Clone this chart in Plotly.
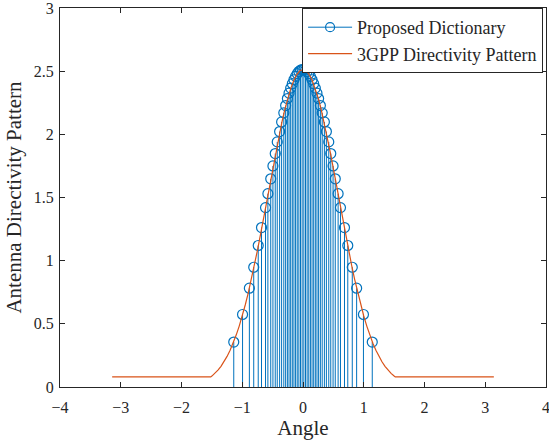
import plotly.graph_objects as go

# Dictionary stem positions (angle, rad) and heights
stem_x = [-1.140, -0.995, -0.883, -0.811, -0.737, -0.683, -0.617, -0.578, -0.531, -0.495,
          -0.457, -0.424, -0.385, -0.352, -0.316, -0.286, -0.257, -0.230, -0.203, -0.176,
          -0.149, -0.122, -0.095, -0.068, -0.041, -0.014,
          0.014, 0.041, 0.068, 0.095, 0.122, 0.149, 0.176, 0.203, 0.230, 0.257,
          0.286, 0.316, 0.352, 0.385, 0.424, 0.457, 0.495, 0.531, 0.578, 0.617,
          0.683, 0.737, 0.811, 0.883, 0.995, 1.140]
stem_y = [0.356, 0.574, 0.782, 0.948, 1.120, 1.262, 1.420, 1.530, 1.648, 1.750,
          1.848, 1.940, 2.022, 2.098, 2.170, 2.228, 2.283, 2.326, 2.366, 2.401,
          2.432, 2.459, 2.480, 2.497, 2.508, 2.513,
          2.513, 2.508, 2.497, 2.480, 2.459, 2.432, 2.401, 2.366, 2.326, 2.283,
          2.228, 2.170, 2.098, 2.022, 1.940, 1.848, 1.750, 1.648, 1.530, 1.420,
          1.262, 1.120, 0.948, 0.782, 0.574, 0.356]

# 3GPP directivity pattern
curve_x = [-3.1416, -1.519, -1.50, -1.45, -1.40, -1.35, -1.30, -1.25, -1.20, -1.15, -1.10,
           -1.05, -1.00, -0.95, -0.90, -0.85, -0.80, -0.75, -0.70, -0.65, -0.60,
           -0.55, -0.50, -0.45, -0.40, -0.35, -0.30, -0.25, -0.20, -0.15, -0.10,
           -0.05, 0.00, 0.05, 0.10, 0.15, 0.20, 0.25, 0.30, 0.35, 0.40,
           0.45, 0.50, 0.55, 0.60, 0.65, 0.70, 0.75, 0.80, 0.85, 0.90,
           0.95, 1.00, 1.05, 1.10, 1.15, 1.20, 1.25, 1.30, 1.35, 1.40,
           1.45, 1.50, 1.519, 3.1416]
curve_y = [0.0794, 0.0794, 0.0866, 0.108, 0.134, 0.164, 0.200, 0.242, 0.291, 0.347, 0.411,
           0.482, 0.562, 0.651, 0.747, 0.852, 0.964, 1.082, 1.207, 1.335, 1.466,
           1.597, 1.728, 1.855, 1.977, 2.091, 2.196, 2.288, 2.366, 2.429, 2.475,
           2.503, 2.512, 2.503, 2.475, 2.429, 2.366, 2.288, 2.196, 2.091, 1.977,
           1.855, 1.728, 1.597, 1.466, 1.335, 1.207, 1.082, 0.964, 0.852, 0.747,
           0.651, 0.562, 0.482, 0.411, 0.347, 0.291, 0.242, 0.200, 0.164, 0.134,
           0.108, 0.0866, 0.0794, 0.0794]

x_ticks = [-4, -3, -2, -1, 0, 1, 2, 3, 4]
y_ticks = [0, 0.5, 1, 1.5, 2, 2.5, 3]

BLUE = "#0072BD"
ORANGE = "#D95319"
FONT = "Liberation Serif"

seg_x, seg_y = [], []
for xv, yv in zip(stem_x, stem_y):
    seg_x += [xv, xv, None]
    seg_y += [0, yv, None]

fig = go.Figure()
fig.add_trace(go.Scatter(x=seg_x, y=seg_y, mode="lines",
                         line=dict(color=BLUE, width=1), showlegend=False,
                         hoverinfo="skip"))
fig.add_trace(go.Scatter(x=stem_x, y=stem_y, mode="markers",
                         marker=dict(symbol="circle-open", size=10,
                                     color=BLUE, line=dict(width=1.2, color=BLUE)),
                         showlegend=False))
fig.add_trace(go.Scatter(x=[None], y=[None], mode="lines+markers",
                         name="Proposed Dictionary",
                         line=dict(color=BLUE, width=1),
                         marker=dict(symbol="circle-open", size=9, color=BLUE,
                                     line=dict(width=1.2, color=BLUE))))
fig.add_trace(go.Scatter(x=curve_x, y=curve_y, mode="lines",
                         name="3GPP Directivity Pattern",
                         line=dict(color=ORANGE, width=1.2)))

axis_common = dict(showline=True, linecolor="#262626", linewidth=1, mirror="ticks",
                   ticks="inside", ticklen=5, tickcolor="#262626", tickwidth=1,
                   showgrid=False, zeroline=False, ticklabeloverflow="allow",
                   automargin=False,
                   tickfont=dict(family=FONT, size=16, color="#262626"))

fig.update_layout(
    width=549, height=444,
    margin=dict(l=60, r=3, t=8, b=57),
    paper_bgcolor="white", plot_bgcolor="white",
    font=dict(family=FONT, color="#262626"),
    xaxis=dict(range=[-4, 4], tickvals=x_ticks, ticklabelstandoff=6,
               title=dict(text="Angle", font=dict(family=FONT, size=21), standoff=2),
               **axis_common),
    yaxis=dict(range=[0, 3], tickvals=y_ticks, ticklabelstandoff=2,
               title=dict(text="Antenna Directivity Pattern",
                          font=dict(family=FONT, size=21), standoff=6),
               **axis_common),
    legend=dict(x=0.994, y=1.0, xanchor="right", yanchor="top",
                bgcolor="white", bordercolor="#262626", borderwidth=1,
                font=dict(family=FONT, size=18, color="#262626"),
                tracegroupgap=0, itemwidth=44),
    showlegend=True,
)

fig.write_html("out.html")
